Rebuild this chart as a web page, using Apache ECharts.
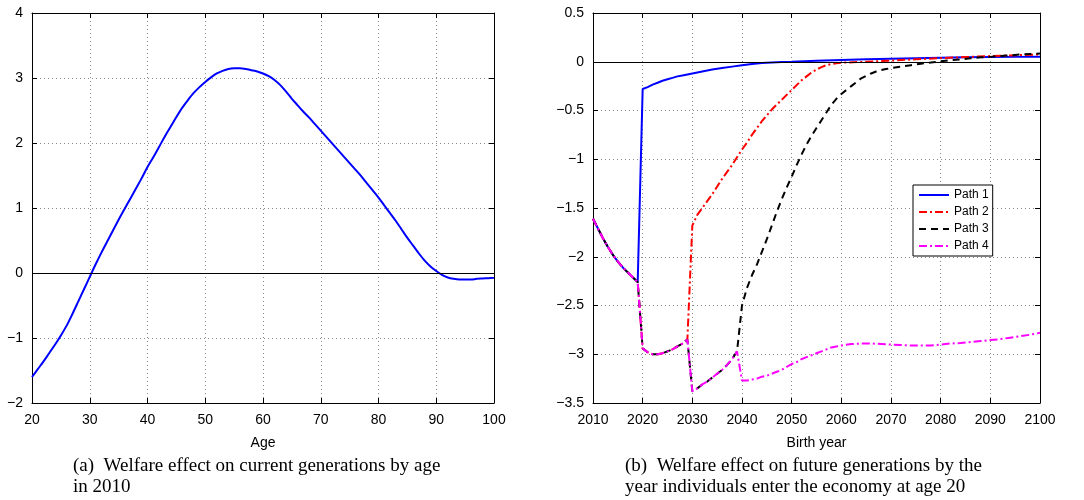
<!DOCTYPE html>
<html>
<head>
<meta charset="utf-8">
<script src="https://cdn.jsdelivr.net/npm/echarts@6/dist/echarts.min.js"></script>
<style>
html,body{margin:0;padding:0;background:#fff;}
#chart{width:1084px;height:500px;}
</style>
</head>
<body>
<div id="chart"></div>
<script>
// ---------- Panel (a): welfare effect by age in 2010 ----------
const ages = [];
for (let a = 20; a <= 100; a++) ages.push(a);
const welfareByAge = [
  -1.60,-1.48,-1.36,-1.23,-1.10,-0.96,-0.81,-0.63,-0.44,-0.25,
  -0.06, 0.13, 0.31, 0.48, 0.65, 0.82, 0.98, 1.14, 1.30, 1.46,
   1.63, 1.78, 1.94, 2.10, 2.25, 2.40, 2.54, 2.66, 2.77, 2.86,
   2.94, 3.01, 3.07, 3.11, 3.14, 3.15, 3.15, 3.14, 3.12, 3.10,
   3.07, 3.03, 2.97, 2.89, 2.79, 2.68, 2.58, 2.48, 2.39, 2.29,
   2.19, 2.09, 1.99, 1.89, 1.79, 1.69, 1.59, 1.49, 1.38, 1.27,
   1.16, 1.04, 0.92, 0.80, 0.67, 0.54, 0.42, 0.30, 0.19, 0.10,
   0.03,-0.03,-0.07,-0.09,-0.10,-0.10,-0.10,-0.09,-0.085,-0.08,
  -0.075
];

// ---------- Panel (b): welfare effect by birth year ----------
// shared segments
const common2010 = [[2010,-1.61],[2011,-1.71],[2012,-1.81],[2013,-1.90],[2014,-1.98],
  [2015,-2.05],[2016,-2.11],[2017,-2.16],[2018,-2.21],[2019,-2.26]];
const common2020 = [[2020,-2.94],[2021,-2.98],[2022,-3.00],[2023,-3.00],[2024,-2.99],
  [2025,-2.97],[2026,-2.95],[2027,-2.92],[2028,-2.89],[2029,-2.85]];
const common2030 = [[2030,-3.38],[2031,-3.35],[2032,-3.31],[2033,-3.28],[2034,-3.24],
  [2035,-3.20],[2036,-3.16],[2037,-3.11],[2038,-3.05],[2039,-2.97]];

const path1Tail = [[2020,-0.28],[2021,-0.26],[2022,-0.235],[2023,-0.215],[2024,-0.195],
  [2025,-0.18],[2026,-0.165],[2027,-0.15],[2028,-0.14],[2029,-0.13],[2030,-0.12],
  [2032,-0.10],[2034,-0.08],[2036,-0.065],[2038,-0.05],[2040,-0.035],[2042,-0.022],
  [2044,-0.013],[2046,-0.007],[2048,-0.003],[2050,0.0],[2055,0.01],[2060,0.018],
  [2065,0.025],[2070,0.031],[2075,0.036],[2080,0.041],[2085,0.045],[2090,0.048],
  [2095,0.05],[2100,0.052]];
const path2Tail = [[2030,-1.68],[2031,-1.57],[2032,-1.50],[2033,-1.43],[2034,-1.36],
  [2035,-1.28],[2036,-1.20],[2037,-1.13],[2038,-1.06],[2039,-0.98],[2040,-0.90],
  [2041,-0.83],[2042,-0.75],[2043,-0.68],[2044,-0.61],[2045,-0.55],[2046,-0.49],
  [2047,-0.44],[2048,-0.39],[2049,-0.34],[2050,-0.29],[2051,-0.24],[2052,-0.19],
  [2053,-0.15],[2054,-0.11],[2055,-0.08],[2056,-0.055],[2057,-0.035],[2058,-0.022],
  [2059,-0.015],[2060,-0.01],[2065,0.0],[2070,0.012],[2075,0.025],[2080,0.037],
  [2085,0.048],[2090,0.058],[2095,0.067],[2100,0.075]];
const path3Tail = [[2040,-2.50],[2041,-2.32],[2042,-2.19],[2043,-2.08],[2044,-1.95],
  [2045,-1.82],[2046,-1.68],[2047,-1.54],[2048,-1.41],[2049,-1.29],[2050,-1.18],
  [2051,-1.06],[2052,-0.95],[2053,-0.85],[2054,-0.76],[2055,-0.68],[2056,-0.60],
  [2057,-0.52],[2058,-0.44],[2059,-0.38],[2060,-0.33],[2061,-0.29],[2062,-0.25],
  [2063,-0.21],[2064,-0.17],[2065,-0.145],[2066,-0.12],[2067,-0.10],[2068,-0.085],
  [2069,-0.075],[2070,-0.065],[2072,-0.05],[2074,-0.035],[2076,-0.02],[2078,-0.008],
  [2080,0.005],[2082,0.015],[2084,0.025],[2086,0.035],[2088,0.045],[2090,0.05],
  [2092,0.06],[2094,0.065],[2096,0.075],[2098,0.08],[2100,0.085]];
const path4Tail = [[2040,-3.27],[2041,-3.27],[2042,-3.26],[2043,-3.25],[2044,-3.23],
  [2045,-3.22],[2046,-3.20],[2047,-3.18],[2048,-3.16],[2049,-3.13],[2050,-3.10],
  [2051,-3.08],[2052,-3.05],[2053,-3.03],[2054,-3.01],[2055,-2.99],[2056,-2.97],
  [2057,-2.95],[2058,-2.93],[2059,-2.92],[2060,-2.91],[2062,-2.895],[2064,-2.89],
  [2066,-2.89],[2068,-2.895],[2070,-2.90],[2072,-2.905],[2074,-2.91],[2076,-2.91],
  [2078,-2.91],[2080,-2.90],[2082,-2.89],[2084,-2.885],[2086,-2.875],[2088,-2.865],
  [2090,-2.855],[2092,-2.845],[2094,-2.83],[2096,-2.815],[2098,-2.80],[2100,-2.78]];

const pathNames = ['Path 1','Path 2','Path 3','Path 4'];
const captionA = ['(a)  Welfare effect on current generations by age', 'in 2010'];
const captionB = ['(b)  Welfare effect on future generations by the', 'year individuals enter the economy at age 20'];

const path1 = common2010.concat(path1Tail);
const path2 = common2010.concat(common2020, path2Tail);
const path3 = common2010.concat(common2020, common2030, path3Tail);
const path4 = common2010.concat(common2020, common2030, path4Tail);

const FONT = '"Liberation Sans", Arial, Helvetica, sans-serif';
const SERIF = '19px "Liberation Serif", "Times New Roman", serif';
const minusFmt = v => String(v).replace('-', '\u2212');

function bottomX(grid, min, max, name) {
  return {
    type: 'value', gridIndex: grid, min: min, max: max, interval: 10, position: 'bottom',
    name: name, nameLocation: 'middle', nameGap: 33,
    nameTextStyle: { fontFamily: FONT, fontSize: 14, color: '#000' },
    axisLine: { show: true, onZero: false, lineStyle: { color: '#000', width: 1 } },
    axisTick: { show: true, inside: true, length: 5, lineStyle: { color: '#000' } },
    axisLabel: { show: true, margin: 10, fontFamily: FONT, fontSize: 14, color: '#000', formatter: minusFmt },
    splitLine: { show: true, lineStyle: { color: '#8a8a8a', width: 1, type: [1, 3] } }
  };
}
function topX(grid, min, max) {
  return {
    type: 'value', gridIndex: grid, min: min, max: max, interval: 10, position: 'top',
    axisLine: { show: true, onZero: false, lineStyle: { color: '#000', width: 1 } },
    axisTick: { show: true, inside: true, length: 5, lineStyle: { color: '#000' } },
    axisLabel: { show: false }, splitLine: { show: false }
  };
}
function leftY(grid, min, max, interval) {
  return {
    type: 'value', gridIndex: grid, min: min, max: max, interval: interval, position: 'left',
    axisLine: { show: true, onZero: false, lineStyle: { color: '#000', width: 1 } },
    axisTick: { show: true, inside: true, length: 5, lineStyle: { color: '#000' } },
    axisLabel: { show: true, margin: 9, fontFamily: FONT, fontSize: 14, color: '#000', formatter: minusFmt },
    splitLine: { show: true, lineStyle: { color: '#8a8a8a', width: 1, type: [1, 3] } }
  };
}
function rightY(grid, min, max, interval) {
  return {
    type: 'value', gridIndex: grid, min: min, max: max, interval: interval, position: 'right',
    axisLine: { show: true, onZero: false, lineStyle: { color: '#000', width: 1 } },
    axisTick: { show: true, inside: true, length: 5, lineStyle: { color: '#000' } },
    axisLabel: { show: false }, splitLine: { show: false }
  };
}

const zeroLine = {
  silent: true, symbol: 'none', label: { show: false },
  lineStyle: { color: '#000', width: 1, type: 'solid' },
  data: [{ yAxis: 0 }]
};

const option = {
  animation: false,
  backgroundColor: '#fff',
  grid: [
    { left: 32, top: 13, width: 462, height: 390 },
    { left: 593, top: 13, width: 447, height: 390 }
  ],
  xAxis: [
    bottomX(0, 20, 100, 'Age'), topX(0, 20, 100),
    bottomX(1, 2010, 2100, 'Birth year'), topX(1, 2010, 2100)
  ],
  yAxis: [
    leftY(0, -2, 4, 1), rightY(0, -2, 4, 1),
    leftY(1, -3.5, 0.5, 0.5), rightY(1, -3.5, 0.5, 0.5)
  ],
  legend: {
    data: pathNames,
    orient: 'vertical', left: 913, top: 185,
    itemWidth: 30, itemHeight: 12, itemGap: 5,
    padding: [4, 4, 4, 5],
    borderColor: '#000', borderWidth: 1, backgroundColor: '#fff',
    itemStyle: { opacity: 0 },
    textStyle: { fontFamily: FONT, fontSize: 12, color: '#000' }
  },
  series: [
    {
      type: 'line', xAxisIndex: 0, yAxisIndex: 0, showSymbol: false, symbol: 'none', smooth: 0.3,
      data: ages.map((a, i) => [a, welfareByAge[i]]),
      lineStyle: { color: '#0000ff', width: 2 }, itemStyle: { color: '#0000ff' },
      markLine: zeroLine, z: 3
    },
    {
      name: pathNames[0], type: 'line', xAxisIndex: 2, yAxisIndex: 2, symbol: 'none',
      data: path1, lineStyle: { color: '#0000ff', width: 2 }, itemStyle: { color: '#0000ff' },
      markLine: zeroLine, z: 3
    },
    {
      name: pathNames[1], type: 'line', xAxisIndex: 2, yAxisIndex: 2, symbol: 'none',
      data: path2, lineStyle: { color: '#ff0000', width: 2, type: [8, 3, 2, 3] }, itemStyle: { color: '#ff0000' }, z: 4
    },
    {
      name: pathNames[2], type: 'line', xAxisIndex: 2, yAxisIndex: 2, symbol: 'none',
      data: path3, lineStyle: { color: '#000000', width: 2, type: [7, 5] }, itemStyle: { color: '#000000' }, z: 5
    },
    {
      name: pathNames[3], type: 'line', xAxisIndex: 2, yAxisIndex: 2, symbol: 'none',
      data: path4, lineStyle: { color: '#ff00ff', width: 2, type: [8, 3, 2, 3] }, itemStyle: { color: '#ff00ff' }, z: 6
    }
  ],
  graphic: [
    { type: 'text', left: 73, top: 457, style: { text: captionA[0], font: SERIF, fill: '#000' } },
    { type: 'text', left: 73, top: 478, style: { text: captionA[1], font: SERIF, fill: '#000' } },
    { type: 'text', left: 625, top: 457, style: { text: captionB[0], font: SERIF, fill: '#000' } },
    { type: 'text', left: 625, top: 478, style: { text: captionB[1], font: SERIF, fill: '#000' } }
  ]
};

const chart = echarts.init(document.getElementById('chart'), null, { renderer: 'canvas' });
chart.setOption(option);
</script>
</body>
</html>
